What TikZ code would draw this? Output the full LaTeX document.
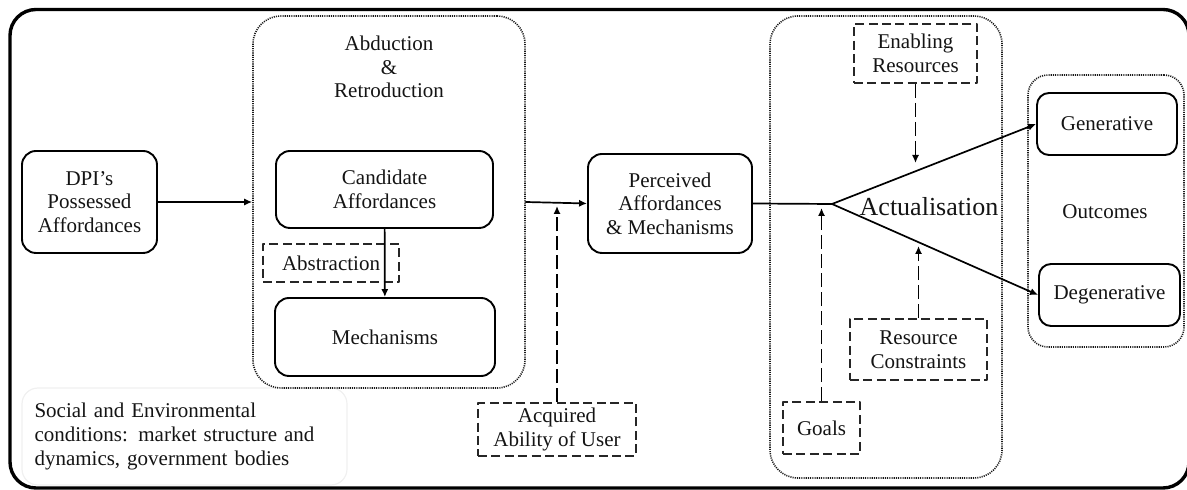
\documentclass[tikz,border=0pt]{standalone}
\usepackage{fontspec}
\setmainfont{Liberation Serif}
\usetikzlibrary{arrows.meta}

\begin{document}
\begin{tikzpicture}[
   x=0.5pt,
   y=-0.5pt,
   line cap=round,
   line join=round,
   every node/.style={font=\fontsize{10.5}{11.8}\selectfont, text=black!92},
   box/.style={draw, line width=0.95pt, rounded corners=7pt, align=center, inner sep=2pt},
   dashbox/.style={draw=black!85, line width=0.9pt, line cap=butt, dash pattern=on 4.5pt off 2.2pt, align=center, inner sep=2pt},
   groupbox/.style={draw=black!90, line width=0.8pt, line cap=butt, dash pattern=on 0.55pt off 0.55pt, rounded corners=14pt, inner sep=0pt},
   arr/.style={line width=0.85pt, -{Latex[length=4pt,width=3.6pt]}},
   dasharr/.style={line width=0.9pt, line cap=butt, dash pattern=on 7pt off 2.5pt, -{Latex[length=4pt,width=3.6pt]}}
 ]
   \useasboundingbox (0,0) rectangle (1187,490);
   % Outer frame of the whole model.
   \draw[line width=1.7pt, rounded corners=13pt] (10,9.5) rectangle (1189,488);

   % Background conditions.
   \node[draw=black!6, line width=0.6pt, rounded corners=8pt, minimum width=162.5pt,
         minimum height=48.5pt, text width=150pt, inner xsep=6.25pt, align=left]
     (social) at (184.5,436.5) {Social and Environmental\\conditions: market structure and\\dynamics, government bodies};

   % Groups drawn in dotted lines.
   \node[groupbox, minimum width=136pt, minimum height=186pt] (abd) at (389,202) {};
   \node[groupbox, minimum width=116pt, minimum height=231pt] (act) at (886,247) {};
   \node[groupbox, rounded corners=10pt, minimum width=78pt, minimum height=136pt] (outc) at (1106,211) {};
   \node[align=center] (abdlabel) at (389,67) {Abduction\\\&\\Retroduction};
   \node (actlabel) at (929,207) {\fontsize{13}{15}\selectfont Actualisation};
   \node (outclabel) at (1105,212) {Outcomes};

   % Main boxes.
   \node[box, minimum width=67.5pt, minimum height=51pt] (dpi) at (89.5,202) {DPI’s\\Possessed\\Affordances};
   \node[box, minimum width=108.5pt, minimum height=38.5pt] (cand) at (384.5,189.5) {Candidate\\Affordances};
   \node[box, minimum width=110pt, minimum height=39pt] (mech) at (385,337) {Mechanisms};
   \node[box, minimum width=82pt, minimum height=49.5pt] (perc) at (670,203.5) {Perceived\\Affordances\\\& Mechanisms};
   \node[box, rounded corners=6pt, minimum width=70pt, minimum height=31pt] (gen) at (1107,124) {Generative};
   \node[box, rounded corners=6pt, minimum width=70.5pt, minimum height=31pt] (degen) at (1109.5,295) {Degenerative};

   % Dashed boxes.
   \node[dashbox, minimum width=68pt, minimum height=19pt] (abst) at (331,263) {Abstraction};
   \node[dashbox, minimum width=79pt, minimum height=26.5pt] (acq) at (557,429.5) {Acquired\\Ability of User};
   \node[dashbox, minimum width=61.5pt, minimum height=29.5pt] (enab) at (915.5,53.5) {Enabling\\Resources};
   \node[dashbox, minimum width=68.5pt, minimum height=30.5pt] (rcon) at (918.5,349.5) {Resource\\Constraints};
   \node[dashbox, minimum width=38.5pt, minimum height=26pt] (goals) at (821.5,428) {Goals};

   % Free ends of the connectors.
   \coordinate (jn) at (832,204);
   \coordinate (acqtip) at (557,206);
   \coordinate (enabtip) at (915.5,163);
   \coordinate (rcontip) at (918.5,246);
   \coordinate (goaltip) at (821.5,208);

   % Connectors.
   \draw[arr] (dpi) -- (abd);
   \draw[arr] (cand) -- (mech);
   \draw[arr] (abd.east) -- (perc.west);
   \draw[line width=0.85pt] (perc.east) -- (jn);
   \draw[arr] (jn) -- (gen.west);
   \draw[arr] (jn) -- (degen.west);
   \draw[dasharr] (acq) -- (acqtip);
   \draw[dasharr] (enab) -- (enabtip);
   \draw[dasharr] (rcon) -- (rcontip);
   \draw[dasharr] (goals) -- (goaltip);
 \end{tikzpicture}
\end{document}
